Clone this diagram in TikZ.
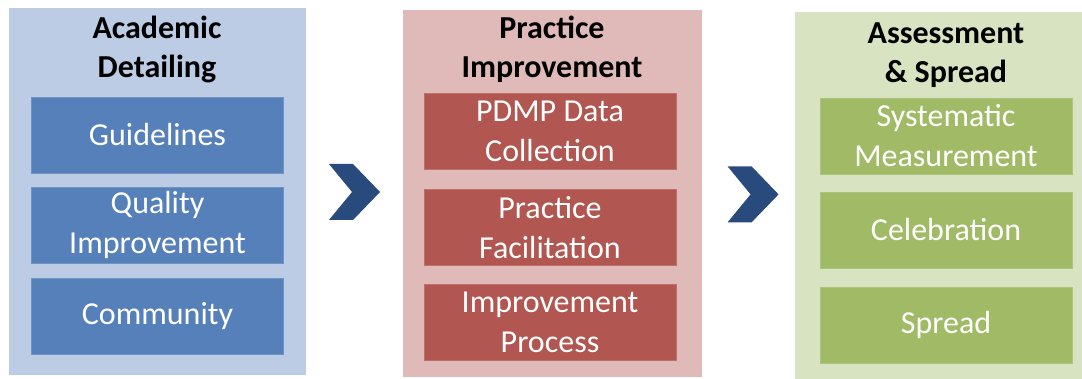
\documentclass[tikz,border=0pt]{standalone}
\usepackage{fontspec}
\setmainfont{Carlito}
\usetikzlibrary{calc}

\definecolor{adlight}{RGB}{187,204,228}
\definecolor{addark}{RGB}{86,128,185}
\definecolor{pilight}{RGB}{223,186,185}
\definecolor{pidark}{RGB}{177,86,80}
\definecolor{aslight}{RGB}{216,227,193}
\definecolor{asdark}{RGB}{160,186,101}
\definecolor{chevblue}{RGB}{40,74,124}

\begin{document}
\begin{tikzpicture}[x=0.5pt,y=-0.5pt,
    panel/.style={inner sep=0pt,draw=white,line width=0.4pt},
    head/.style={align=center,inner sep=0pt,font=\fontsize{16}{19.5}\selectfont\bfseries},
    item/.style={align=center,inner sep=0pt,text=white,minimum width=126pt,minimum height=38pt,
      font=\fontsize{16}{20}\selectfont}]
  \useasboundingbox (0,0) rectangle (1082,379);
  % the three stages
  \node[panel,fill=adlight,minimum width=149pt,minimum height=184pt] (ad) at (157,191) {};
  \node[panel,fill=pilight,minimum width=150pt,minimum height=184pt] (pi) at (552,193) {};
  \node[panel,fill=aslight,minimum width=144pt,minimum height=184pt] (as) at (938,195.5) {};
  % headings
  \node[head] (adh) at (157,49) {Academic\\Detailing};
  \node[head] (pih) at (552,49) {Practice\\Improvement};
  \node[head] (ash) at (946,55) {Assessment\\\& Spread};
  % blue column
  \node[item,fill=addark,draw=addark!85!white] (guide) at (157.5,135) {Guidelines};
  \node[item,fill=addark,draw=addark!85!white] (qi) at (157.5,225) {Quality\\Improvement};
  \node[item,fill=addark,draw=addark!85!white] (comm) at (157.5,316) {Community};
  % red column
  \node[item,fill=pidark,draw=pidark!85!white] (pdmp) at (550,131.5) {PDMP Data\\Collection};
  \node[item,fill=pidark,draw=pidark!85!white] (pf) at (550,227.5) {Practice\\Facilitation};
  \node[item,fill=pidark,draw=pidark!85!white] (ip) at (550,322.5) {Improvement\\Process};
  % green column
  \node[item,fill=asdark,draw=asdark!85!white] (sm) at (946,136) {Systematic\\Measurement};
  \node[item,fill=asdark,draw=asdark!85!white] (cel) at (946,230) {Celebration};
  \node[item,fill=asdark,draw=asdark!85!white] (spr) at (946,325) {Spread};
  % chevrons between the stages
  \coordinate (c1) at ($(ad.east)!0.5!(pi.west)$);
  \coordinate (c2) at ($(pi.east)!0.55!(as.west)$);
  \foreach \c in {c1,c2}
    \fill[chevblue] ($(\c)+(-25,-28)$) -- ++(24,0) -- ++(27,28) -- ++(-27,28) -- ++(-24,0) -- ++(23,-28) -- cycle;
\end{tikzpicture}
\end{document}
